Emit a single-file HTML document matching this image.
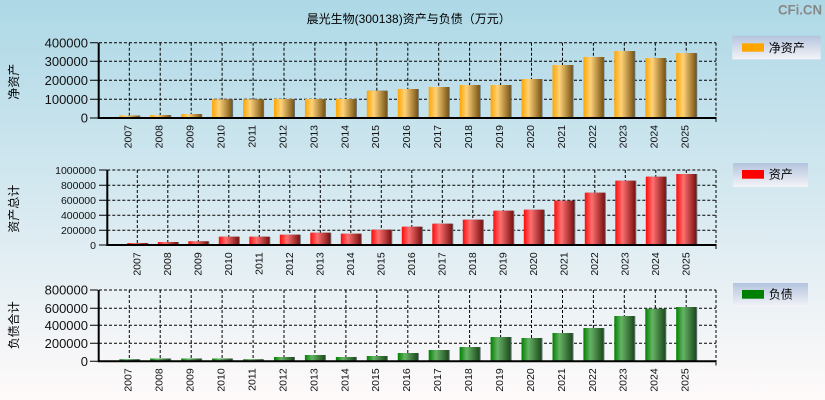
<!DOCTYPE html>
<html><head><meta charset="utf-8"><style>
html,body{margin:0;padding:0;width:825px;height:400px;overflow:hidden}
svg{display:block}
text{font-family:"Liberation Sans","Noto Sans CJK SC",sans-serif}
</style></head><body>
<svg width="825" height="400" viewBox="0 0 825 400" xmlns="http://www.w3.org/2000/svg">
<defs>
<linearGradient id="bg" x1="0" y1="0" x2="0" y2="1"><stop offset="0" stop-color="#add8e6"/><stop offset="1" stop-color="#fffafa"/></linearGradient>
<linearGradient id="lg" x1="0" y1="0" x2="0" y2="1"><stop offset="0" stop-color="#b4c4de"/><stop offset="1" stop-color="#f4f4f8"/></linearGradient>
<linearGradient id="go" x1="0" y1="0" x2="1" y2="0"><stop offset="0" stop-color="#ffa500"/><stop offset="0.35" stop-color="#ffd27a"/><stop offset="1" stop-color="#7a5514"/></linearGradient>
<linearGradient id="gr" x1="0" y1="0" x2="1" y2="0"><stop offset="0" stop-color="#ff0a0a"/><stop offset="0.35" stop-color="#ff7070"/><stop offset="1" stop-color="#7a1010"/></linearGradient>
<linearGradient id="gg" x1="0" y1="0" x2="1" y2="0"><stop offset="0" stop-color="#008000"/><stop offset="0.35" stop-color="#66b366"/><stop offset="1" stop-color="#1c4a1c"/></linearGradient>
</defs>
<rect width="825" height="400" fill="url(#bg)"/>
<text x="408.7" y="23" font-size="12" text-anchor="middle" fill="#000">晨光生物(300138)资产与负债（万元）</text>
<text x="822" y="14.7" font-size="14" font-weight="bold" text-anchor="end" fill="#888" textLength="44" lengthAdjust="spacingAndGlyphs">CFi.CN</text>

<!-- ===== Panel 1 ===== -->
<g stroke="#000" stroke-width="1" stroke-dasharray="3,2" fill="none">
<path d="M99 42.7H716M99 61.3H716M99 80.3H716M99 99.3H716"/>
<path d="M129.3 42.7V118M160.2 42.7V118M191.2 42.7V118M222.1 42.7V118M253.1 42.7V118M284 42.7V118M314.9 42.7V118M345.9 42.7V118M376.8 42.7V118M407.8 42.7V118M438.7 42.7V118M469.6 42.7V118M500.6 42.7V118M531.5 42.7V118M562.5 42.7V118M593.4 42.7V118M624.3 42.7V118M655.3 42.7V118M686.2 42.7V118M716 42.7V118"/>
</g>
<g fill="#607078">
<rect x="120.3" y="115.5" width="20" height="2.5"/><rect x="151.2" y="115" width="20" height="3"/><rect x="182.2" y="114" width="20" height="4"/><rect x="213.1" y="99.3" width="20" height="18.7"/><rect x="244.1" y="99.3" width="20" height="18.7"/><rect x="275" y="99" width="20" height="19"/><rect x="305.9" y="99" width="20" height="19"/><rect x="336.9" y="99" width="20" height="19"/><rect x="367.8" y="90.7" width="20" height="27.3"/><rect x="398.8" y="89" width="20" height="29"/><rect x="429.7" y="87" width="20" height="31"/><rect x="460.6" y="85" width="20" height="33"/><rect x="491.6" y="85" width="20" height="33"/><rect x="522.5" y="79" width="20" height="39"/><rect x="553.5" y="65" width="20" height="53"/><rect x="584.4" y="57" width="20" height="61"/><rect x="615.3" y="51" width="20" height="67"/><rect x="646.3" y="58" width="20" height="60"/><rect x="677.2" y="53" width="20" height="65"/>
</g>
<g fill="url(#go)">
<rect x="119.3" y="115.5" width="20" height="2.5"/><rect x="150.2" y="115" width="20" height="3"/><rect x="181.2" y="114" width="20" height="4"/><rect x="212.1" y="99.3" width="20" height="18.7"/><rect x="243.1" y="99.3" width="20" height="18.7"/><rect x="274" y="99" width="20" height="19"/><rect x="304.9" y="99" width="20" height="19"/><rect x="335.9" y="99" width="20" height="19"/><rect x="366.8" y="90.7" width="20" height="27.3"/><rect x="397.8" y="89" width="20" height="29"/><rect x="428.7" y="87" width="20" height="31"/><rect x="459.6" y="85" width="20" height="33"/><rect x="490.6" y="85" width="20" height="33"/><rect x="521.5" y="79" width="20" height="39"/><rect x="552.5" y="65" width="20" height="53"/><rect x="583.4" y="57" width="20" height="61"/><rect x="614.3" y="51" width="20" height="67"/><rect x="645.3" y="58" width="20" height="60"/><rect x="676.2" y="53" width="20" height="65"/>
</g>
<g stroke="#000" fill="none">
<path d="M98.7 42.7V119M98 118H716.5" stroke-width="2"/>
<path d="M90 42.7H98M90 61.3H98M90 80.3H98M90 99.3H98M90 118H98M716 118V122" stroke-width="1"/>
</g>
<g font-size="13" text-anchor="end" fill="#111">
<text x="88" y="47.4">400000</text><text x="88" y="66">300000</text><text x="88" y="85">200000</text><text x="88" y="104">100000</text><text x="88" y="122.7">0</text>
</g>
<g font-size="10.5" text-anchor="end" fill="#111">
<text transform="translate(131.7,125) rotate(-90)">2007</text><text transform="translate(162.6,125) rotate(-90)">2008</text><text transform="translate(193.6,125) rotate(-90)">2009</text><text transform="translate(224.5,125) rotate(-90)">2010</text><text transform="translate(255.5,125) rotate(-90)">2011</text><text transform="translate(286.4,125) rotate(-90)">2012</text><text transform="translate(317.3,125) rotate(-90)">2013</text><text transform="translate(348.3,125) rotate(-90)">2014</text><text transform="translate(379.2,125) rotate(-90)">2015</text><text transform="translate(410.2,125) rotate(-90)">2016</text><text transform="translate(441.1,125) rotate(-90)">2017</text><text transform="translate(472,125) rotate(-90)">2018</text><text transform="translate(503,125) rotate(-90)">2019</text><text transform="translate(533.9,125) rotate(-90)">2020</text><text transform="translate(564.9,125) rotate(-90)">2021</text><text transform="translate(595.8,125) rotate(-90)">2022</text><text transform="translate(626.7,125) rotate(-90)">2023</text><text transform="translate(657.7,125) rotate(-90)">2024</text><text transform="translate(688.6,125) rotate(-90)">2025</text>
</g>
<text transform="translate(18,81.7) rotate(-90)" font-size="12" text-anchor="middle" fill="#000">净资产</text>
<rect x="732.3" y="35.7" width="88.4" height="23.6" fill="url(#lg)"/>
<rect x="742" y="43.3" width="22" height="8.4" fill="#ffa500"/>
<text x="768.7" y="52" font-size="12" fill="#000">净资产</text>

<!-- ===== Panel 2 ===== -->
<g stroke="#000" stroke-width="1" stroke-dasharray="3,2" fill="none">
<path d="M107.3 170H716M107.3 185.3H716M107.3 200.3H716M107.3 215.3H716M107.3 230.3H716"/>
<path d="M137.3 170V245M167.8 170V245M198.3 170V245M228.8 170V245M259.3 170V245M289.8 170V245M320.3 170V245M350.8 170V245M381.3 170V245M411.8 170V245M442.3 170V245M472.8 170V245M503.3 170V245M533.8 170V245M564.3 170V245M594.8 170V245M625.3 170V245M655.8 170V245M686.3 170V245M716 170V245"/>
</g>
<g fill="#607078">
<rect x="128.3" y="243" width="20" height="2"/><rect x="158.8" y="242" width="20" height="3"/><rect x="189.3" y="241.3" width="20" height="3.7"/><rect x="219.8" y="236.7" width="20" height="8.3"/><rect x="250.3" y="236.7" width="20" height="8.3"/><rect x="280.8" y="234.7" width="20" height="10.3"/><rect x="311.3" y="232.7" width="20" height="12.3"/><rect x="341.8" y="233.7" width="20" height="11.3"/><rect x="372.3" y="229.7" width="20" height="15.3"/><rect x="402.8" y="226.7" width="20" height="18.3"/><rect x="433.3" y="223.7" width="20" height="21.3"/><rect x="463.8" y="219.7" width="20" height="25.3"/><rect x="494.3" y="210.7" width="20" height="34.3"/><rect x="524.8" y="209.7" width="20" height="35.3"/><rect x="555.3" y="200.7" width="20" height="44.3"/><rect x="585.8" y="192.7" width="20" height="52.3"/><rect x="616.3" y="180.7" width="20" height="64.3"/><rect x="646.8" y="176.7" width="20" height="68.3"/><rect x="677.3" y="174" width="20" height="71"/>
</g>
<g fill="url(#gr)">
<rect x="127.3" y="243" width="20" height="2"/><rect x="157.8" y="242" width="20" height="3"/><rect x="188.3" y="241.3" width="20" height="3.7"/><rect x="218.8" y="236.7" width="20" height="8.3"/><rect x="249.3" y="236.7" width="20" height="8.3"/><rect x="279.8" y="234.7" width="20" height="10.3"/><rect x="310.3" y="232.7" width="20" height="12.3"/><rect x="340.8" y="233.7" width="20" height="11.3"/><rect x="371.3" y="229.7" width="20" height="15.3"/><rect x="401.8" y="226.7" width="20" height="18.3"/><rect x="432.3" y="223.7" width="20" height="21.3"/><rect x="462.8" y="219.7" width="20" height="25.3"/><rect x="493.3" y="210.7" width="20" height="34.3"/><rect x="523.8" y="209.7" width="20" height="35.3"/><rect x="554.3" y="200.7" width="20" height="44.3"/><rect x="584.8" y="192.7" width="20" height="52.3"/><rect x="615.3" y="180.7" width="20" height="64.3"/><rect x="645.8" y="176.7" width="20" height="68.3"/><rect x="676.3" y="174" width="20" height="71"/>
</g>
<g stroke="#000" fill="none">
<path d="M107.3 170V246M106.5 245H716.5" stroke-width="2"/>
<path d="M99 170H107M99 185.3H107M99 200.3H107M99 215.3H107M99 230.3H107M99 245H107M716 245V249" stroke-width="1"/>
</g>
<g font-size="10.5" text-anchor="end" fill="#111">
<text x="96" y="173.8">1000000</text><text x="96" y="189.1">800000</text><text x="96" y="204.1">600000</text><text x="96" y="219.1">400000</text><text x="96" y="234.1">200000</text><text x="96" y="248.8">0</text>
</g>
<g font-size="10.5" text-anchor="end" fill="#111">
<text transform="translate(140.7,252.3) rotate(-90)">2007</text><text transform="translate(171.2,252.3) rotate(-90)">2008</text><text transform="translate(201.7,252.3) rotate(-90)">2009</text><text transform="translate(232.2,252.3) rotate(-90)">2010</text><text transform="translate(262.7,252.3) rotate(-90)">2011</text><text transform="translate(293.2,252.3) rotate(-90)">2012</text><text transform="translate(323.7,252.3) rotate(-90)">2013</text><text transform="translate(354.2,252.3) rotate(-90)">2014</text><text transform="translate(384.7,252.3) rotate(-90)">2015</text><text transform="translate(415.2,252.3) rotate(-90)">2016</text><text transform="translate(445.7,252.3) rotate(-90)">2017</text><text transform="translate(476.2,252.3) rotate(-90)">2018</text><text transform="translate(506.7,252.3) rotate(-90)">2019</text><text transform="translate(537.2,252.3) rotate(-90)">2020</text><text transform="translate(567.7,252.3) rotate(-90)">2021</text><text transform="translate(598.2,252.3) rotate(-90)">2022</text><text transform="translate(628.7,252.3) rotate(-90)">2023</text><text transform="translate(659.2,252.3) rotate(-90)">2024</text><text transform="translate(689.7,252.3) rotate(-90)">2025</text>
</g>
<text transform="translate(18,208.7) rotate(-90)" font-size="12" text-anchor="middle" fill="#000">资产总计</text>
<rect x="733" y="163" width="75" height="24" fill="url(#lg)"/>
<rect x="742" y="170" width="22" height="8.7" fill="#ff0000"/>
<text x="768.7" y="178.7" font-size="12" fill="#000">资产</text>

<!-- ===== Panel 3 ===== -->
<g stroke="#000" stroke-width="1" stroke-dasharray="3,2" fill="none">
<path d="M99 290H716M99 308.3H716M99 325.3H716M99 343.3H716"/>
<path d="M129.3 290V361.3M160.2 290V361.3M191.2 290V361.3M222.1 290V361.3M253.1 290V361.3M284 290V361.3M314.9 290V361.3M345.9 290V361.3M376.8 290V361.3M407.8 290V361.3M438.7 290V361.3M469.6 290V361.3M500.6 290V361.3M531.5 290V361.3M562.5 290V361.3M593.4 290V361.3M624.3 290V361.3M655.3 290V361.3M686.2 290V361.3M716 290V361.3"/>
</g>
<g fill="#607078">
<rect x="120.3" y="359.3" width="20" height="2"/><rect x="151.2" y="358.5" width="20" height="2.8"/><rect x="182.2" y="358.5" width="20" height="2.8"/><rect x="213.1" y="358.5" width="20" height="2.8"/><rect x="244.1" y="359.3" width="20" height="2"/><rect x="275" y="357" width="20" height="4.3"/><rect x="305.9" y="355" width="20" height="6.3"/><rect x="336.9" y="357" width="20" height="4.3"/><rect x="367.8" y="356" width="20" height="5.3"/><rect x="398.8" y="353" width="20" height="8.3"/><rect x="429.7" y="350" width="20" height="11.3"/><rect x="460.6" y="347" width="20" height="14.3"/><rect x="491.6" y="337" width="20" height="24.3"/><rect x="522.5" y="338" width="20" height="23.3"/><rect x="553.5" y="333" width="20" height="28.3"/><rect x="584.4" y="328" width="20" height="33.3"/><rect x="615.3" y="316" width="20" height="45.3"/><rect x="646.3" y="308.7" width="20" height="52.6"/><rect x="677.2" y="307" width="20" height="54.3"/>
</g>
<g fill="url(#gg)">
<rect x="119.3" y="359.3" width="20" height="2"/><rect x="150.2" y="358.5" width="20" height="2.8"/><rect x="181.2" y="358.5" width="20" height="2.8"/><rect x="212.1" y="358.5" width="20" height="2.8"/><rect x="243.1" y="359.3" width="20" height="2"/><rect x="274" y="357" width="20" height="4.3"/><rect x="304.9" y="355" width="20" height="6.3"/><rect x="335.9" y="357" width="20" height="4.3"/><rect x="366.8" y="356" width="20" height="5.3"/><rect x="397.8" y="353" width="20" height="8.3"/><rect x="428.7" y="350" width="20" height="11.3"/><rect x="459.6" y="347" width="20" height="14.3"/><rect x="490.6" y="337" width="20" height="24.3"/><rect x="521.5" y="338" width="20" height="23.3"/><rect x="552.5" y="333" width="20" height="28.3"/><rect x="583.4" y="328" width="20" height="33.3"/><rect x="614.3" y="316" width="20" height="45.3"/><rect x="645.3" y="308.7" width="20" height="52.6"/><rect x="676.2" y="307" width="20" height="54.3"/>
</g>
<g stroke="#000" fill="none">
<path d="M98.7 290V362.3M98 361.3H716.5" stroke-width="2"/>
<path d="M90 290H98M90 308.3H98M90 325.3H98M90 343.3H98M90 361.3H98M716 361.3V365.5" stroke-width="1"/>
</g>
<g font-size="13" text-anchor="end" fill="#111">
<text x="88" y="294.7">800000</text><text x="88" y="313">600000</text><text x="88" y="330">400000</text><text x="88" y="348">200000</text><text x="88" y="366">0</text>
</g>
<g font-size="10.5" text-anchor="end" fill="#111">
<text transform="translate(131.7,368.3) rotate(-90)">2007</text><text transform="translate(162.6,368.3) rotate(-90)">2008</text><text transform="translate(193.6,368.3) rotate(-90)">2009</text><text transform="translate(224.5,368.3) rotate(-90)">2010</text><text transform="translate(255.5,368.3) rotate(-90)">2011</text><text transform="translate(286.4,368.3) rotate(-90)">2012</text><text transform="translate(317.3,368.3) rotate(-90)">2013</text><text transform="translate(348.3,368.3) rotate(-90)">2014</text><text transform="translate(379.2,368.3) rotate(-90)">2015</text><text transform="translate(410.2,368.3) rotate(-90)">2016</text><text transform="translate(441.1,368.3) rotate(-90)">2017</text><text transform="translate(472,368.3) rotate(-90)">2018</text><text transform="translate(503,368.3) rotate(-90)">2019</text><text transform="translate(533.9,368.3) rotate(-90)">2020</text><text transform="translate(564.9,368.3) rotate(-90)">2021</text><text transform="translate(595.8,368.3) rotate(-90)">2022</text><text transform="translate(626.7,368.3) rotate(-90)">2023</text><text transform="translate(657.7,368.3) rotate(-90)">2024</text><text transform="translate(688.6,368.3) rotate(-90)">2025</text>
</g>
<text transform="translate(18,325.3) rotate(-90)" font-size="12" text-anchor="middle" fill="#000">负债合计</text>
<rect x="733" y="283" width="75" height="24" fill="url(#lg)"/>
<rect x="742" y="290" width="22" height="8.7" fill="#008000"/>
<text x="768.7" y="298.7" font-size="12" fill="#000">负债</text>
</svg>
</body></html>
